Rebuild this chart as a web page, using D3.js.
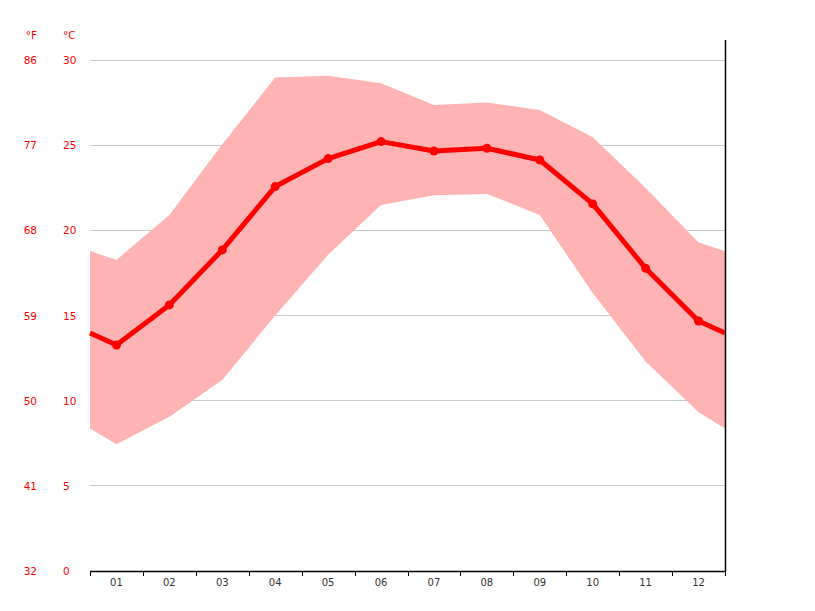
<!DOCTYPE html>
<html><head><meta charset="utf-8">
<script src="https://cdn.jsdelivr.net/npm/d3@7"></script>
<style>body{margin:0;background:#fff}svg{display:block}text{font-family:"DejaVu Sans",sans-serif}</style>
</head><body><svg id="c" width="815" height="611"></svg>
<script>
const months = ["01","02","03","04","05","06","07","08","09","10","11","12"];
const meanC = [13.27,15.62,18.85,22.57,24.21,25.21,24.66,24.82,24.13,21.55,17.77,14.68];
const maxC  = [18.26,20.9,25.05,28.97,29.08,28.64,27.36,27.5,27.07,25.46,22.49,19.28];
const minC  = [7.44,9.06,11.21,15.0,18.56,21.49,22.06,22.14,20.9,16.32,12.3,9.32];
// values at left/right chart edges
const edgeMean = 13.97, edgeMax = 18.78, edgeMin = 8.37;
const tickC = [0,5,10,15,20,25,30];
const tickF = [32,41,50,59,68,77,86];

const svg = d3.select("#c");
const x = d3.scaleLinear().domain([0,12]).range([90,725]);
const y = d3.scaleLinear().domain([0,30]).range([571,60]);

const pts = months.map((m,i)=>({x:i+0.5, mean:meanC[i], max:maxC[i], min:minC[i]}));
const full = [{x:0,mean:edgeMean,max:edgeMax,min:edgeMin}, ...pts, {x:12,mean:edgeMean,max:edgeMax,min:edgeMin}];

// grid
svg.append("g").selectAll("line").data(tickC.filter(d=>d>0)).join("line")
  .attr("x1",x(0)).attr("x2",x(12)).attr("y1",d=>y(d)).attr("y2",d=>y(d))
  .attr("stroke","#c8c8c8").attr("stroke-width",1).attr("shape-rendering","crispEdges");

// band
svg.append("path").datum(full)
  .attr("d", d3.area().x(d=>x(d.x)).y0(d=>y(d.min)).y1(d=>y(d.max)))
  .attr("fill","#ffb3b3");

// line
svg.append("path").datum(full)
  .attr("d", d3.line().x(d=>x(d.x)).y(d=>y(d.mean)))
  .attr("fill","none").attr("stroke","#ff0000").attr("stroke-width",5).attr("stroke-linejoin","round");
svg.append("g").selectAll("circle").data(pts).join("circle")
  .attr("cx",d=>x(d.x)).attr("cy",d=>y(d.mean)).attr("r",4.5).attr("fill","#ff0000");

// x axis
const xa = svg.append("g");
xa.append("line").attr("x1",x(0)).attr("x2",x(12)).attr("y1",571.5).attr("y2",571.5).attr("stroke","#000").attr("stroke-width",1.5);
xa.selectAll("line.t").data(d3.range(13)).join("line").attr("class","t")
  .attr("x1",d=>Math.round(x(d))+0.5).attr("x2",d=>Math.round(x(d))+0.5).attr("y1",571).attr("y2",576)
  .attr("stroke","#000").attr("stroke-width",1);
xa.selectAll("text").data(pts).join("text")
  .attr("x",d=>x(d.x)).attr("y",586).attr("text-anchor","middle")
  .attr("font-size","10px").attr("fill","#333").text((d,i)=>months[i]);

// right axis
svg.append("line").attr("x1",725.5).attr("x2",725.5).attr("y1",40).attr("y2",572).attr("stroke","#000").attr("stroke-width",1.5);

// y labels
svg.append("g").selectAll("text").data(tickC).join("text")
  .attr("x",63).attr("y",d=>y(d)+4).attr("font-size","10.5px").attr("fill","#ff0000").text(d=>d);
svg.append("g").selectAll("text").data(tickF).join("text")
  .attr("x",37).attr("y",(d,i)=>y(tickC[i])+4).attr("text-anchor","end").attr("font-size","10.5px").attr("fill","#ff0000").text(d=>d);
svg.append("text").attr("x",37).attr("y",39).attr("text-anchor","end").attr("font-size","10.5px").attr("fill","#ff0000").text("°F");
svg.append("text").attr("x",63).attr("y",39).attr("font-size","10.5px").attr("fill","#ff0000").text("°C");
</script></body></html>
